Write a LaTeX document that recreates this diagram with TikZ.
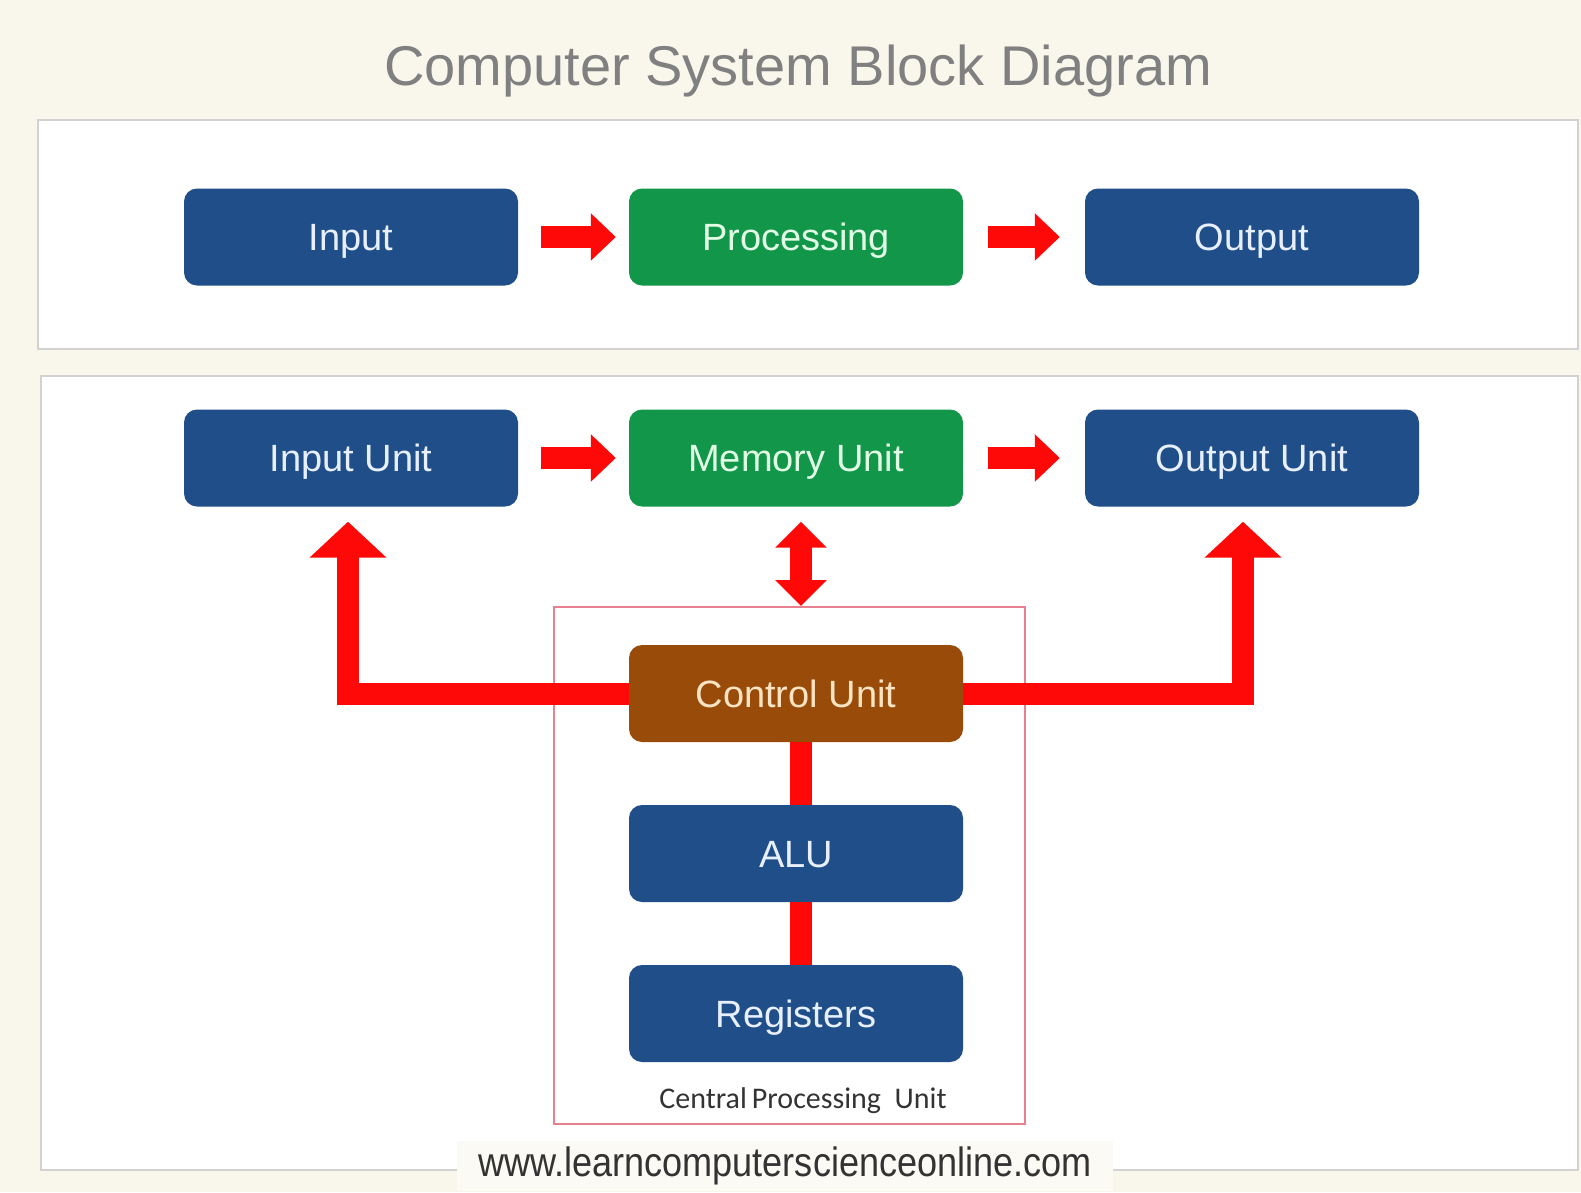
\documentclass[tikz,border=0pt]{standalone}
\usepackage{fontspec}
\usepackage{graphicx}
\setmainfont{Liberation Sans}
\newfontfamily\calfont{Carlito}
\usetikzlibrary{arrows.meta,calc}
\definecolor{bgcream}{HTML}{F9F7EC}
\definecolor{urlcream}{HTML}{FBFAF4}
\definecolor{panelgray}{HTML}{D2D2D0}
\definecolor{boxblue}{HTML}{1F4E89}
\definecolor{boxgreen}{HTML}{12964A}
\definecolor{boxbrown}{HTML}{994C0A}
\definecolor{arrred}{HTML}{FF0808}
\definecolor{cpuline}{HTML}{E88090}
\definecolor{titlegray}{HTML}{808080}
\definecolor{txtblue}{HTML}{E8F0FF}
\definecolor{txtgreen}{HTML}{E2FFE6}
\definecolor{txtbrown}{HTML}{FFE4C4}
\definecolor{darktxt}{HTML}{333333}
\tikzset{
  ubox/.style={rectangle, rounded corners=13pt, minimum width=334pt, minimum height=97pt,
    inner sep=0pt, text height=27pt, text depth=0pt, font=\fontsize{38}{44}\selectfont},
  bluebox/.style={ubox, fill=boxblue, text=txtblue},
  greenbox/.style={ubox, fill=boxgreen, text=txtgreen},
  brownbox/.style={ubox, fill=boxbrown, text=txtbrown},
  flowarr/.style={draw=arrred, line width=22pt, -{Triangle[width=46pt,length=25pt]}},
  uparr/.style={draw=arrred, line width=22pt, line join=miter, -{Triangle[width=75pt,length=36pt]}},
  dblarr/.style={draw=arrred, line width=22pt, {Triangle[width=50pt,length=26pt]}-{Triangle[width=50pt,length=26pt]}},
  bar/.style={draw=arrred, line width=22pt},
  panel/.style={draw=panelgray, line width=2pt, fill=white}
}
\begin{document}
\begin{tikzpicture}[x=1pt,y=-1pt]
\useasboundingbox (0,0) rectangle (1581,1192);
\fill[bgcream] (0,0) rectangle (1581,1192);
% title
\node[anchor=base, text=titlegray, font=\fontsize{56}{64}\selectfont, inner sep=0pt] (title) at (798,85) {Computer System Block Diagram};
% panels
\draw[panel] (38,120) rectangle (1578,349);
\draw[panel] (41,376) rectangle (1578,1170);
% top row
\node[bluebox] (inp) at (351,237) {Input};
\node[greenbox] (proc) at (796,237) {Processing};
\node[bluebox] (outp) at (1252,237) {Output};
\draw[flowarr] ($(inp.east)+(23,0)$) -- ($(proc.west)+(-13,0)$);
\draw[flowarr] ($(proc.east)+(25,0)$) -- ($(outp.west)+(-25,0)$);
% second row
\node[bluebox] (inu) at (351,458) {Input Unit};
\node[greenbox] (mem) at (796,458) {Memory Unit};
\node[bluebox] (outu) at (1252,458) {Output Unit};
\draw[flowarr] ($(inu.east)+(23,0)$) -- ($(mem.west)+(-13,0)$);
\draw[flowarr] ($(mem.east)+(25,0)$) -- ($(outu.west)+(-25,0)$);
% CPU
\node[draw=cpuline, line width=2pt, minimum width=471pt, minimum height=517pt, inner sep=0pt] (cpu) at (789.5,865.5) {};
\node[brownbox] (cu) at (796,693.5) {Control Unit};
\node[bluebox] (alu) at (796,853.5) {ALU};
\node[bluebox] (reg) at (796,1013.5) {Registers};
\node[font=\calfont\fontsize{30}{34}\selectfont, text=darktxt, inner sep=0pt] (cpulbl) at (803,1101) {Central\,Processing\ \ Unit};
% connectors
\coordinate (mx) at ($(mem.south)+(5,0)$);
\draw[dblarr] ($(mem.south)+(5,15)$) -- (mx |- cpu.north);
\draw[bar] ($(cu.south)+(5,0)$) -- ($(alu.north)+(5,0)$);
\draw[bar] ($(alu.south)+(5,0)$) -- ($(reg.north)+(5,0)$);
\coordinate (tipL) at ($(inu.south)+(-3,15)$);
\coordinate (tipR) at ($(outu.south)+(-9,15)$);
\draw[uparr] (cu.west) -| (tipL);
\draw[uparr] (cu.east) -| (tipR);
% URL
\node[fill=urlcream, minimum width=656pt, minimum height=50pt, inner sep=0pt, text=darktxt,
  font=\fontsize{41}{46}\selectfont] (url) at (785,1166) {\scalebox{0.88}[1]{www.learncomputerscienceonline.com}};
\end{tikzpicture}
\end{document}
